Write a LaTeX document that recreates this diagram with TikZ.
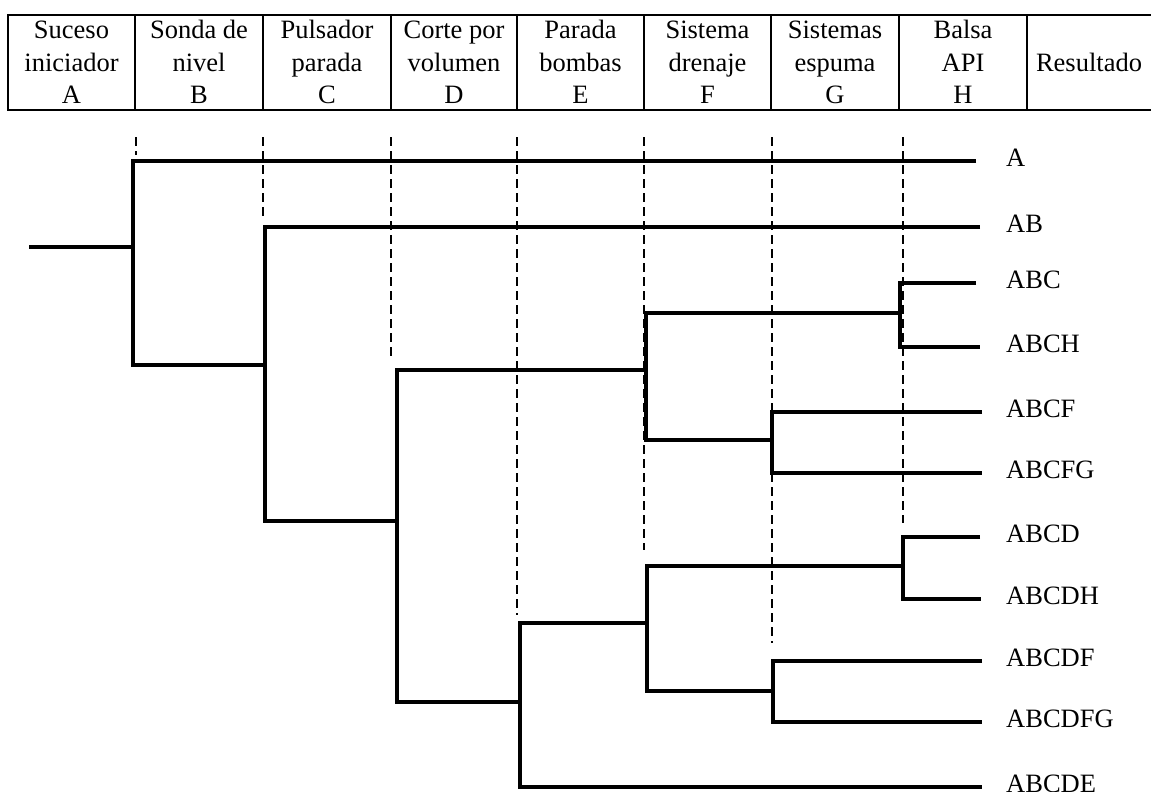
\documentclass[tikz,border=0pt]{standalone}
\usepackage{fontspec}
\setmainfont{Liberation Serif}
\begin{document}
\begin{tikzpicture}[x=1pt,y=-1pt,
  txt/.style={inner sep=0pt, font=\fontsize{26.5}{30}\selectfont},
  hdr/.style={txt, anchor=base},
  leaf/.style={txt, anchor=base west},
  branch/.style={line width=4pt, line join=miter},
  guide/.style={line width=2pt, dash pattern=on 9pt off 5pt},
  frame/.style={line width=2pt}]
\useasboundingbox (0,0) rectangle (1151,792);

% header table
\draw[frame] (1151,15) -- (8,15) -- (8,110) -- (1151,110);
\foreach \x in {135,263,391,517,644,771,899,1027}
  \draw[frame] (\x,15) -- (\x,110);
\foreach \cx/\a/\b/\c [count=\i] in {
   71.5/Suceso/iniciador/A,
   199/Sonda de/nivel/B,
   327/Pulsador/parada/C,
   454/Corte por/volumen/D,
   580.5/Parada/bombas/E,
   707.5/Sistema/drenaje/F,
   835/Sistemas/espuma/G,
   963/Balsa/API/H}{
  \node[hdr] (h\i-1) at (\cx,39) {\a};
  \node[hdr] (h\i-2) at (\cx,72) {\b};
  \node[hdr] (h\i-3) at (\cx,103) {\c};
}
\node[hdr] (res) at (1089,72) {Resultado};

% dashed guide lines
\foreach \x/\yb in {136/155,263/220,391/358,517/615,644/550,772/643,903/523}
  \draw[guide] (\x,137) -- (\x,\yb);

% branch points
\coordinate (s0)  at (29,247);
\coordinate (nA)  at (133,247);
\coordinate (nB)  at (265,365);
\coordinate (nC)  at (397,521);
\coordinate (nF1) at (646,370);
\coordinate (nH1) at (900,313);
\coordinate (nG1) at (772,440);
\coordinate (nE)  at (520,702);
\coordinate (nF2) at (647,623);
\coordinate (nH2) at (903,566);
\coordinate (nG2) at (773,691);

% leaf ends and result labels
\foreach \nm/\xe/\y in {A/976/161, AB/980/227, ABC/976/283, ABCH/980/347,
   ABCF/982/412, ABCFG/982/473, ABCD/980/537, ABCDH/981/599,
   ABCDF/982/661, ABCDFG/982/722, ABCDE/982/787}{
  \coordinate (t\nm) at (\xe,\y);
  \node[leaf] (l\nm) at (1006,\y+5) {\nm};
}

% tree
\draw[branch] (s0) -- (nA);
\draw[branch] (tA) -| (nA) |- (nB);
\draw[branch] (tAB) -| (nB) |- (nC);
\draw[branch] (nF1) -| (nC) |- (nE);
\draw[branch] (nH1) -| (nF1) |- (nG1);
\draw[branch] (tABC) -| (nH1) |- (tABCH);
\draw[branch] (tABCF) -| (nG1) |- (tABCFG);
\draw[branch] (nF2) -| (nE) |- (tABCDE);
\draw[branch] (nH2) -| (nF2) |- (nG2);
\draw[branch] (tABCD) -| (nH2) |- (tABCDH);
\draw[branch] (tABCDF) -| (nG2) |- (tABCDFG);
\end{tikzpicture}
\end{document}
